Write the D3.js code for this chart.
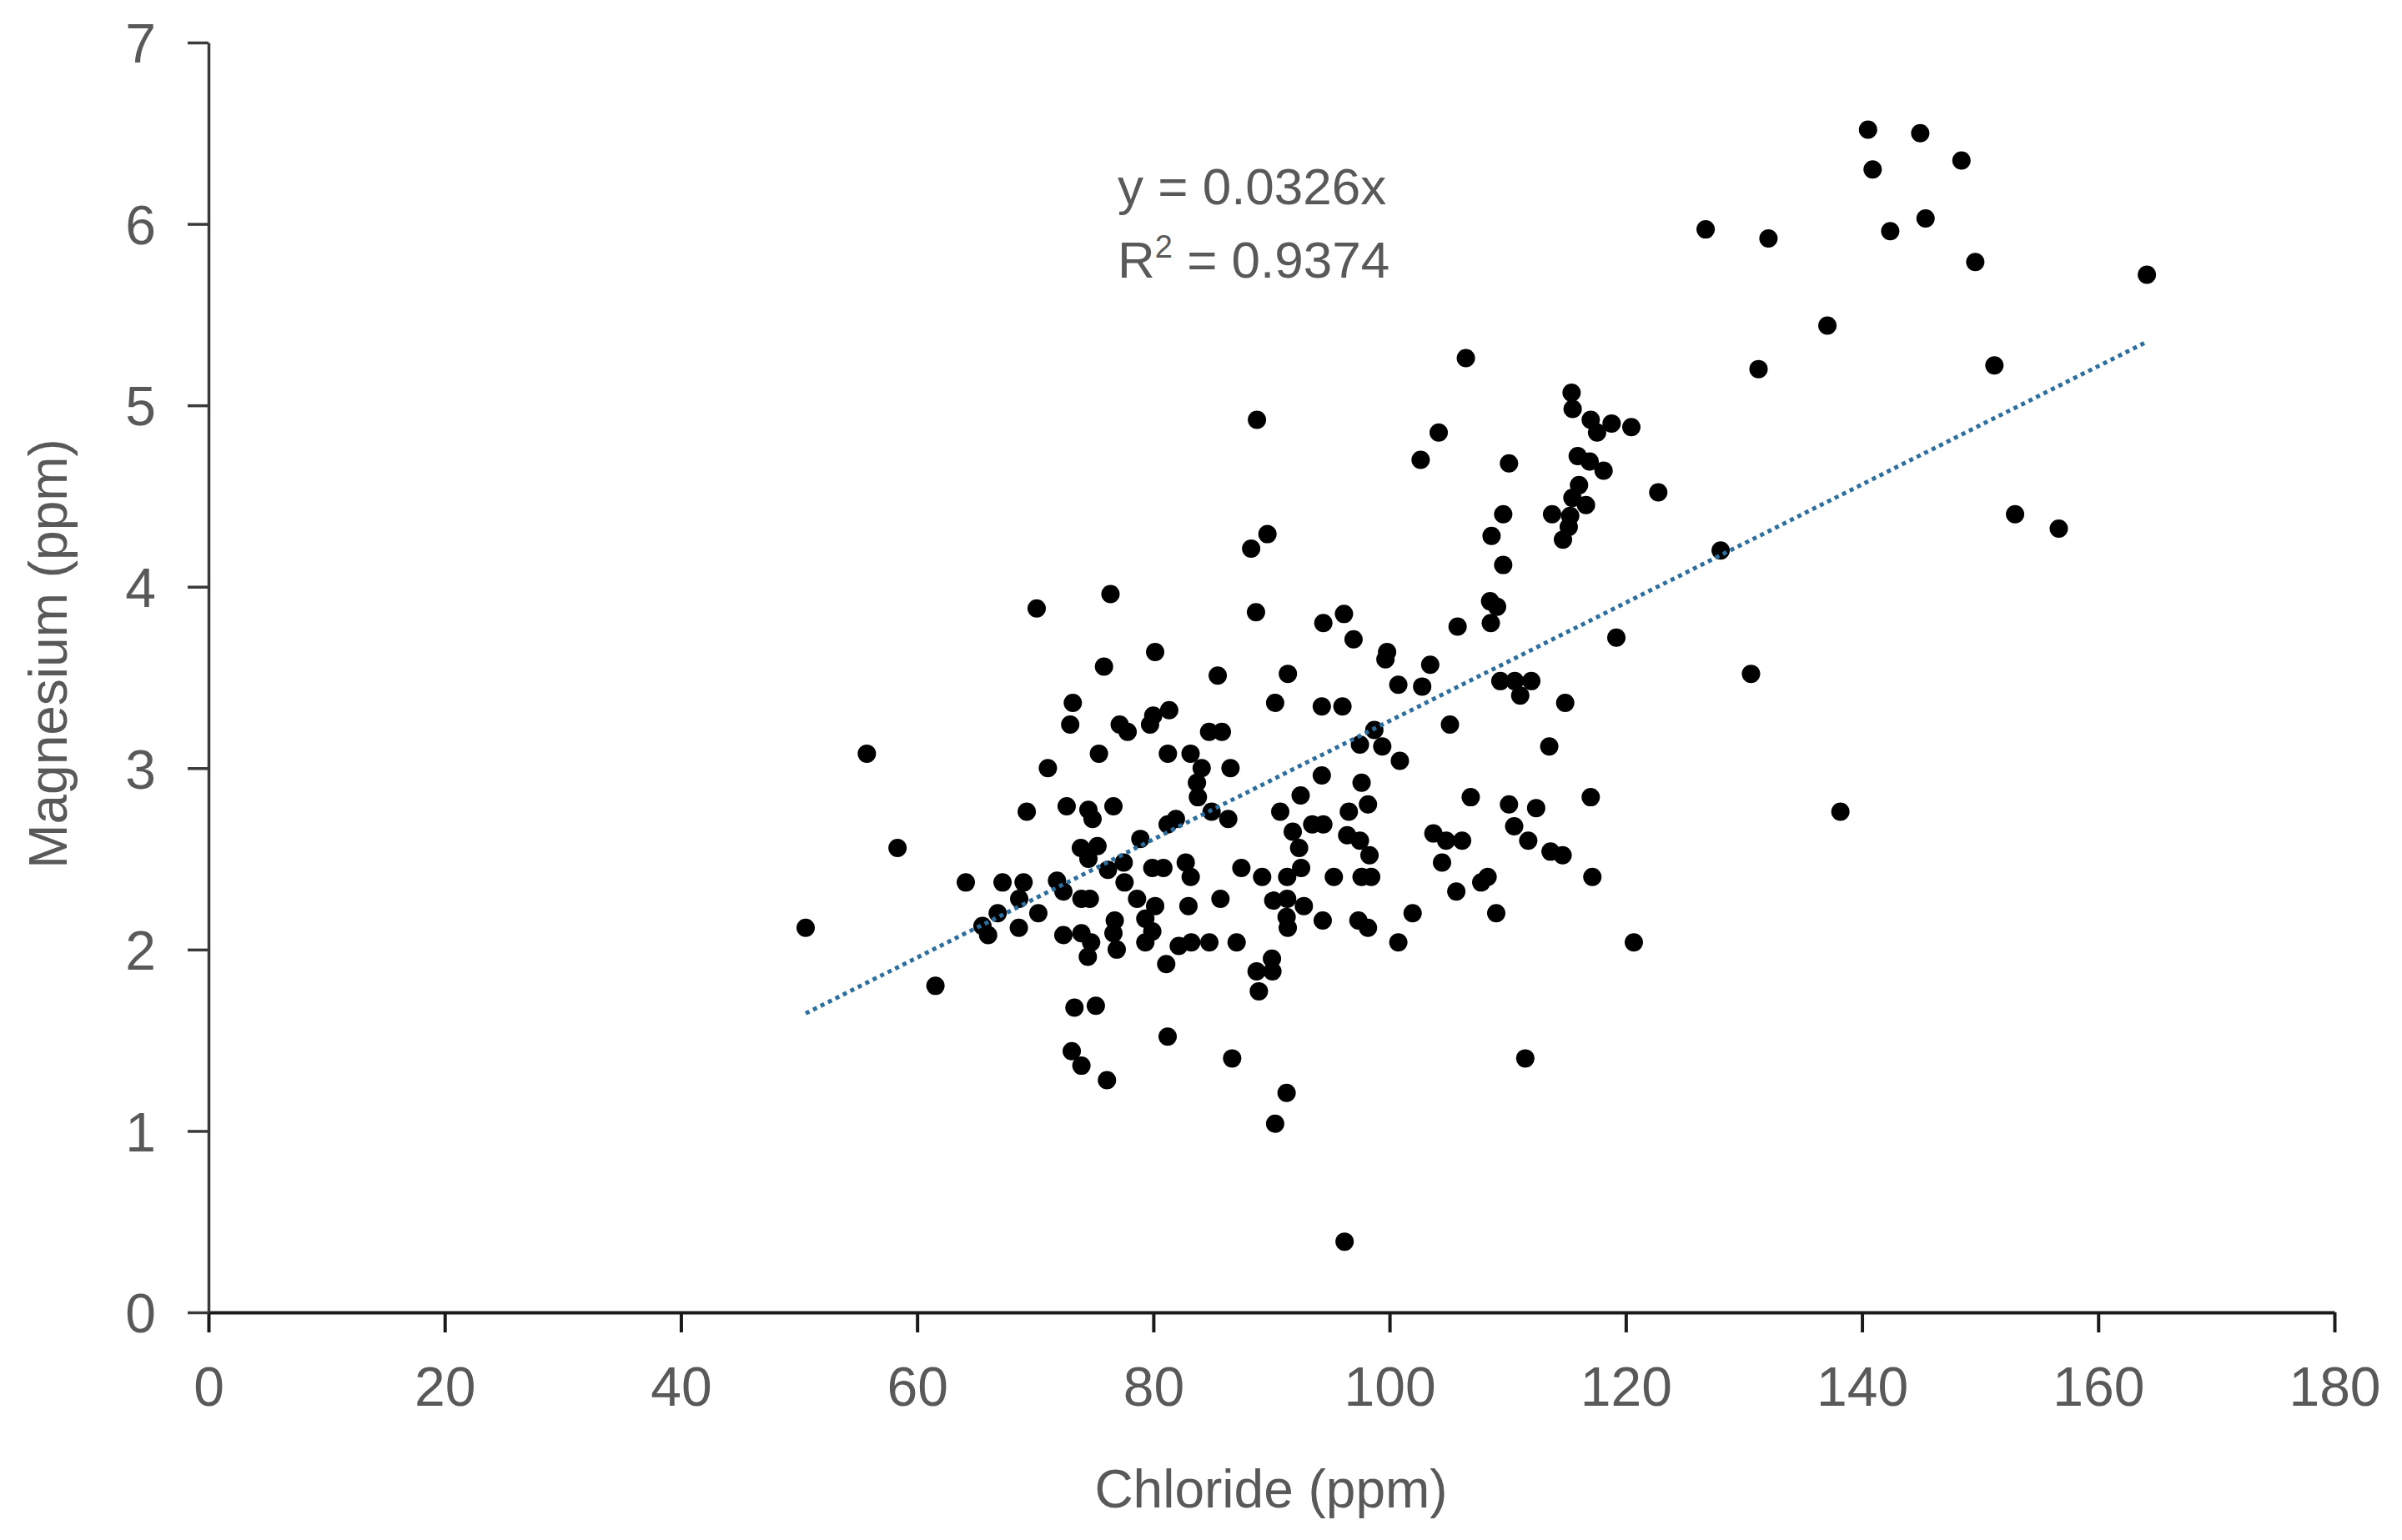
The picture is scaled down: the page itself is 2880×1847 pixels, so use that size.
<!DOCTYPE html>
<html>
<head>
<meta charset="utf-8">
<script src="https://cdn.jsdelivr.net/npm/d3@7/dist/d3.min.js"></script>
<style>
  html, body { margin: 0; padding: 0; background: #ffffff; }
  svg { display: block; }
</style>
</head>
<body>
<svg id="chart" width="2880" height="1847"></svg>
<script>
// ---- data ----
const chloride = [
  89.66, 88.28, 76.37, 70.12, 88.69, 94.39, 80.15, 75.82, 85.45, 91.39,
  73.18, 90.31, 94.26, 81.34, 79.99, 79.72, 72.96, 77.15, 77.82, 84.72,
  85.80, 55.74, 75.39, 81.23, 83.15, 71.07, 84.09, 86.53, 94.26, 83.69,
  83.77, 92.47, 69.28, 58.34, 64.12, 67.23, 69.01, 68.64, 66.82, 65.53,
  66.01, 68.61, 70.26, 61.55,
  90.31,
  128.03, 96.14, 108.57, 105.76, 96.95, 99.79, 99.65, 103.44, 119.20, 130.60,
  100.74, 102.76, 109.38, 110.60, 112.00, 111.06, 114.87, 96.01, 105.11, 98.71,
  97.49, 99.38, 100.87, 113.52, 97.63, 106.87, 110.11, 112.41, 117.03, 98.17,
  96.55, 110.55, 111.74, 96.41, 97.49, 98.30, 103.71, 104.79, 106.14, 104.44,
  113.63, 114.65, 97.63, 98.44, 108.30, 107.76, 105.65, 117.17, 101.95, 109.03,
  97.36, 98.17, 100.74, 120.68,
  111.49, 96.19,
  72.66, 74.50, 74.85, 76.62, 84.93, 86.34, 81.21, 81.91, 90.74, 93.45,
  94.39, 91.80, 92.34, 78.90, 73.86, 75.27, 74.50, 76.15, 77.49, 71.84,
  72.38, 77.56, 73.91, 74.62, 79.91, 80.85, 82.74, 83.16, 87.45, 89.21,
  92.51, 91.33, 90.15, 91.33, 92.74, 91.28, 91.38, 95.28, 94.34, 78.62,
  80.15, 79.32, 79.91, 79.32, 82.97, 85.68, 76.73, 76.62, 76.90, 72.38,
  73.91, 74.73, 74.45, 82.15, 83.21, 84.74, 87.05, 81.09, 90.04, 88.74,
  90.08, 88.93, 73.32, 75.13, 81.21, 73.09, 73.91, 86.67, 76.07, 91.28,
  106.46, 104.16, 102.63, 110.11, 115.41, 115.50, 117.03, 117.57, 118.80, 120.47,
  115.93, 116.94, 118.12, 122.75, 116.04, 115.48, 116.63, 115.29, 115.17, 114.68,
  113.76, 109.62, 108.63, 109.62, 108.51, 109.10,
  88.77, 126.76, 132.08, 140.51, 144.93, 140.90, 148.42, 142.39, 145.38, 149.59,
  164.12, 137.07, 131.24, 151.21, 152.96, 156.66, 138.17, 50.56
];
const magnesium = [
  4.29, 4.21, 3.96, 3.88, 3.86, 3.80, 3.64, 3.56, 3.51, 3.52,
  3.36, 3.36, 3.34, 3.32, 3.29, 3.24, 3.24, 3.24, 3.20, 3.20,
  3.20, 3.08, 3.08, 3.08, 3.08, 3.00, 3.00, 3.00, 2.96, 2.92,
  2.84, 2.85, 2.76, 2.56, 2.37, 2.37, 2.37, 2.28, 2.20, 2.13,
  2.08, 2.12, 2.20, 1.80,
  1.04,
  4.20, 3.85, 3.80, 3.78, 3.71, 3.64, 3.60, 3.57, 3.72, 3.52,
  3.46, 3.45, 3.48, 3.48, 3.48, 3.40, 3.36, 3.34, 3.24, 3.21,
  3.13, 3.12, 3.04, 3.12, 2.92, 2.84, 2.80, 2.78, 2.84, 2.80,
  2.76, 2.68, 2.60, 2.63, 2.60, 2.52, 2.64, 2.60, 2.60, 2.48,
  2.54, 2.52, 2.40, 2.40, 2.40, 2.37, 2.32, 2.40, 2.20, 2.20,
  2.16, 2.12, 2.04, 2.04,
  1.40, 0.39,
  2.79, 2.77, 2.72, 2.79, 2.76, 2.72, 2.69, 2.72, 2.76, 2.69,
  2.69, 2.65, 2.56, 2.61, 2.56, 2.57, 2.50, 2.44, 2.48, 2.38,
  2.32, 2.37, 2.28, 2.28, 2.45, 2.45, 2.48, 2.40, 2.45, 2.40,
  2.45, 2.40, 2.27, 2.28, 2.24, 2.18, 2.12, 2.40, 2.16, 2.28,
  2.24, 2.17, 2.10, 2.04, 2.24, 2.28, 2.16, 2.09, 2.00, 2.08,
  2.09, 2.04, 1.96, 2.02, 2.04, 2.04, 2.04, 1.92, 1.95, 1.88,
  1.88, 1.77, 1.68, 1.69, 1.52, 1.44, 1.36, 1.40, 1.28, 1.21,
  5.26, 4.85, 4.70, 4.68, 5.07, 4.98, 4.92, 4.85, 4.90, 4.88,
  4.72, 4.69, 4.64, 4.52, 4.56, 4.49, 4.45, 4.39, 4.33, 4.26,
  4.40, 4.40, 4.28, 4.12, 3.92, 3.89,
  4.92, 5.97, 5.92, 6.52, 6.50, 6.30, 6.35, 5.96, 6.03, 5.79,
  5.72, 5.44, 5.20, 5.22, 4.40, 4.32, 2.76, 2.12
];
const xTicks = [0, 20, 40, 60, 80, 100, 120, 140, 160, 180];
const yTicks = [0, 1, 2, 3, 4, 5, 6, 7];
const xDomain = [0, 180];
const yDomain = [0, 7];
const trendSlope = 0.0326;
const equationLine = "y = 0.0326x";
const r2Value = "0.9374";
const xTitle = "Chloride (ppm)";
const yTitle = "Magnesium (ppm)";

// ---- drawing ----
const FONT = "'Liberation Sans', Arial, sans-serif";
const TEXT = "#595959";
const svg = d3.select("#chart");

const x = d3.scaleLinear().domain(xDomain).range([250, 2799]);
const y = d3.scaleLinear().domain(yDomain).range([1574, 51]);

// points
const pts = chloride.map((c, i) => ({ c, m: magnesium[i] }));
svg.append("g").selectAll("circle").data(pts).join("circle")
  .attr("cx", d => x(d.c))
  .attr("cy", d => y(d.m))
  .attr("r", 11)
  .attr("fill", "#000000");

// trendline (through origin), drawn over the data range
const xMin = d3.min(chloride), xMax = d3.max(chloride);
svg.append("line")
  .attr("x1", x(xMin)).attr("y1", y(trendSlope * xMin))
  .attr("x2", x(xMax)).attr("y2", y(trendSlope * xMax))
  .attr("stroke", "#2C6E9E")
  .attr("stroke-width", 5)
  .attr("stroke-dasharray", "5 5");

// axes
const xAxis = d3.axisBottom(x).tickValues(xTicks).tickFormat(d3.format("d"))
  .tickSize(24).tickSizeOuter(0).tickPadding(41);
const yAxis = d3.axisLeft(y).tickValues(yTicks).tickFormat(d3.format("d"))
  .tickSize(25).tickSizeOuter(0).tickPadding(38);

const gx = svg.append("g").attr("transform", "translate(0,1574)").call(xAxis);
const gy = svg.append("g").attr("transform", "translate(250,0)").call(yAxis);

gx.select(".domain").attr("stroke", "#1a1a1a").attr("stroke-width", 4);
gx.selectAll(".tick line").attr("stroke", "#1a1a1a").attr("stroke-width", 4);
gy.select(".domain").attr("stroke", "#3a3a3a").attr("stroke-width", 3.5);
gy.selectAll(".tick line").attr("stroke", "#3a3a3a").attr("stroke-width", 3.5);

[gx, gy].forEach(g => g.selectAll(".tick text")
  .attr("fill", TEXT)
  .style("font-family", FONT)
  .style("font-size", "66px"));
gy.selectAll(".tick text").attr("dy", "0.36em");

// axis titles
svg.append("text")
  .attr("x", 1524).attr("y", 1808)
  .attr("text-anchor", "middle")
  .attr("fill", TEXT)
  .style("font-family", FONT).style("font-size", "64px")
  .text(xTitle);

svg.append("text")
  .attr("transform", "translate(80,784) rotate(-90)")
  .attr("text-anchor", "middle")
  .attr("fill", TEXT)
  .style("font-family", FONT).style("font-size", "64px")
  .text(yTitle);

// trendline equation
svg.append("text")
  .attr("x", 1340).attr("y", 245)
  .attr("fill", TEXT)
  .style("font-family", FONT).style("font-size", "62px")
  .text(equationLine);

const r2 = svg.append("text")
  .attr("x", 1340).attr("y", 333)
  .attr("fill", TEXT)
  .style("font-family", FONT).style("font-size", "62px");
r2.append("tspan").text("R");
r2.append("tspan").attr("dy", -24).style("font-size", "38px").text("2");
r2.append("tspan").attr("dy", 24).text(" = " + r2Value);
</script>
</body>
</html>
